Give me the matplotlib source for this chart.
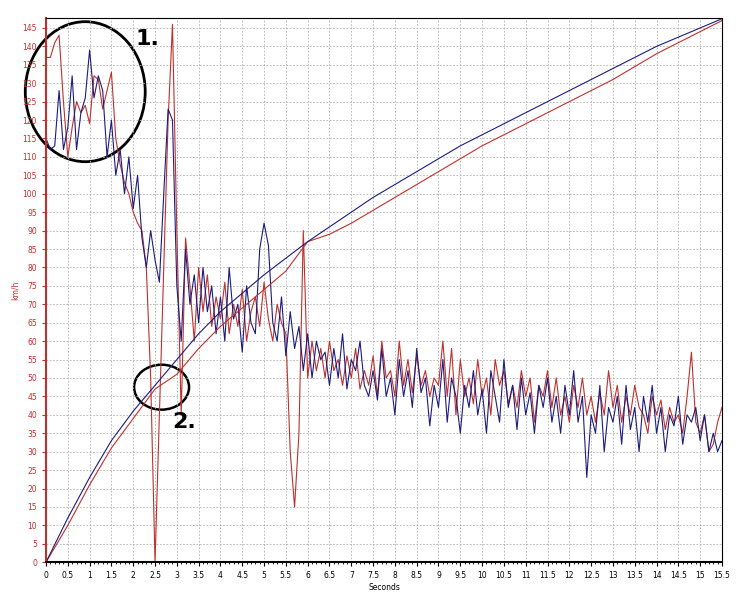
import matplotlib.pyplot as plt
import numpy as np
from matplotlib.patches import Ellipse

# noisy traces sampled every 0.1 s
t_fine = np.round(np.arange(0, 15.55, 0.1), 2)
blue_noise = [115, 112, 113, 128, 112, 118, 132, 112, 122, 126, 139, 126, 132, 128, 110, 120,
              105, 112, 100, 110, 96, 105, 88, 80, 90, 82, 76, 100, 123, 120, 75, 60, 85, 70,
              78, 65, 80, 68, 75, 62, 72, 60, 80, 66, 70, 57, 75, 65, 62, 85, 92, 86, 65, 60,
              72, 56, 68, 58, 64, 52, 62, 50, 60, 55, 57, 48, 58, 50, 62, 47, 55, 52, 60, 48,
              45, 52, 44, 58, 45, 50, 40, 55, 45, 52, 42, 58, 46, 50, 37, 48, 42, 55, 38, 50,
              45, 35, 48, 42, 52, 40, 47, 35, 52, 45, 38, 55, 42, 48, 36, 50, 40, 46, 35, 48,
              42, 50, 38, 45, 35, 48, 40, 52, 38, 45, 23, 40, 35, 48, 30, 42, 38, 45, 32, 48,
              36, 42, 30, 45, 38, 48, 35, 42, 30, 40, 37, 45, 32, 40, 38, 42, 33, 40, 30, 35,
              30, 33]
red_noise = [137, 137, 141, 143, 125, 110, 118, 125, 122, 124, 119, 132, 131, 123, 128, 133,
             115, 108, 103, 100, 95, 92, 90, 80, 50, 0, 40, 80, 120, 146, 90, 40, 88, 75, 60,
             80, 68, 78, 64, 72, 66, 76, 62, 70, 64, 74, 60, 68, 72, 64, 76, 66, 60, 70, 65,
             62, 30, 15, 35, 90, 50, 60, 52, 58, 50, 60, 52, 55, 48, 56, 50, 58, 47, 52, 48,
             56, 45, 60, 50, 52, 45, 60, 48, 55, 46, 56, 48, 52, 45, 50, 48, 60, 45, 58, 40,
             55, 45, 50, 43, 55, 45, 50, 40, 55, 48, 52, 43, 48, 42, 52, 45, 50, 38, 48, 45,
             52, 42, 50, 40, 45, 38, 48, 42, 50, 40, 45, 38, 46, 40, 52, 42, 48, 38, 45, 40,
             48, 42, 40, 35, 45, 40, 44, 36, 42, 38, 40, 35, 45, 57, 38, 35, 40, 30, 32, 38,
             42]

# accumulated curves sampled every 0.5 s
t_coarse = np.arange(0, 15.55, 0.5)
blue_acc = [0, 12, 23, 33, 41, 48, 55, 62, 68, 73, 78, 82.5, 87, 91, 95, 99, 102.5, 106, 109.5,
            113, 116, 119, 122, 125, 128, 131, 134, 137, 140, 142.5, 145, 147.5]
red_acc = [0, 10, 21, 31, 39, 47, 51, 58, 64, 69, 74, 79, 87, 89, 92, 95.5, 99, 102.5, 106,
           109.5, 113, 116, 119, 122, 125, 128, 131, 134.5, 138, 141, 144, 147]

RED = "#c0302c"
BLUE = "#1c1c80"


def main() -> None:
    fig = plt.figure(figsize=(7.42, 6), dpi=100)
    ax = fig.add_axes([0.062, 0.063, 0.911, 0.907])
    ax.plot(t_fine, red_noise, color=RED, lw=0.8)
    ax.plot(t_fine, blue_noise, color=BLUE, lw=0.8)
    ax.plot(t_coarse, red_acc, color=RED, lw=0.8)
    ax.plot(t_coarse, blue_acc, color=BLUE, lw=0.8)

    ax.set_xlim(0, 15.5)
    ax.set_ylim(0, 147.7)
    ax.set_xticks(np.arange(0, 15.51, 0.5))
    ax.set_xticklabels([f"{v:g}" for v in np.arange(0, 15.51, 0.5)])
    ax.set_xticks(np.arange(0, 15.51, 0.1), minor=True)
    ax.set_yticks(np.arange(0, 146, 5))
    ax.tick_params(axis="both", labelsize=5.5, length=3)
    ax.tick_params(axis="y", colors=RED, labelcolor=RED)
    ax.tick_params(axis="x", which="minor", length=1.5)
    ax.grid(True, ls=(0, (2, 2)), color="#b0b0b0", lw=0.6)
    ax.spines["left"].set_color(RED)
    ax.spines["left"].set_linewidth(1.5)
    ax.spines["bottom"].set_linewidth(1.5)
    ax.set_xlabel("Seconds", fontsize=5.5, labelpad=2)
    ax.set_ylabel("km/h", fontsize=5.5, color=RED, labelpad=2)

    ax.add_patch(Ellipse((0.9, 127.7), 2.75, 38, fill=False, lw=2, color="black", clip_on=False))
    ax.add_patch(Ellipse((2.65, 47.5), 1.26, 12.2, fill=False, lw=1.8, color="black"))
    ax.text(2.05, 142, "1.", fontsize=16, fontweight="bold", va="center")
    ax.text(2.9, 38, "2.", fontsize=16, fontweight="bold", va="center")

    fig.savefig("out.png")
    plt.close(fig)


if __name__ == "__main__":
    main()
